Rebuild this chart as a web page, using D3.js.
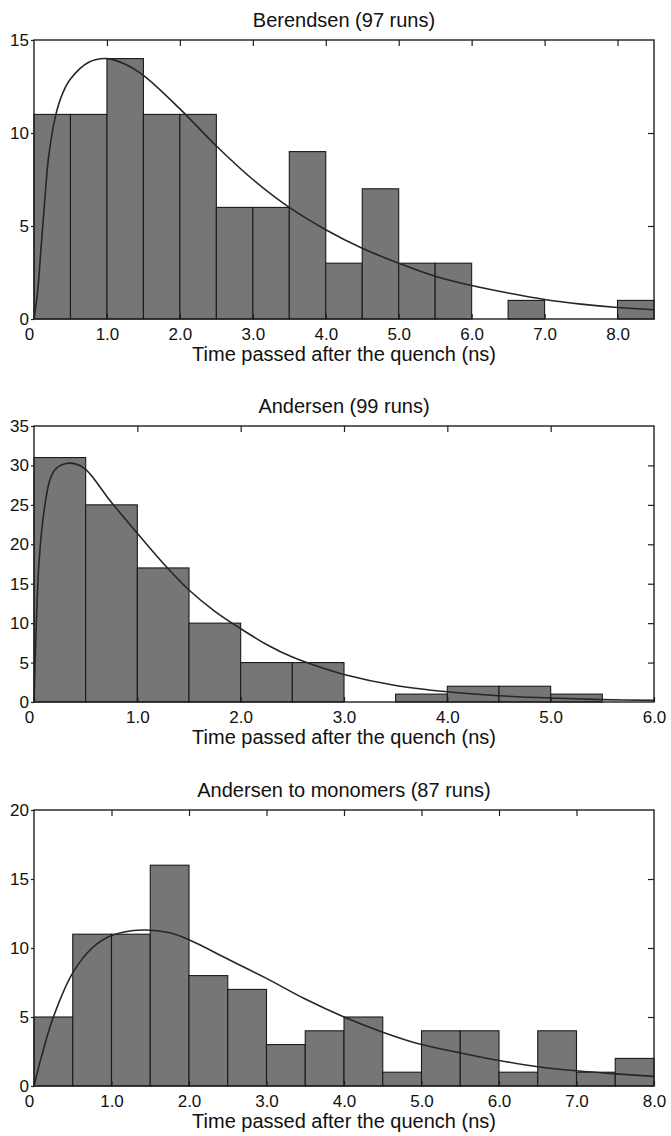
<!DOCTYPE html>
<html>
<head>
<meta charset="utf-8">
<script src="https://cdn.jsdelivr.net/npm/d3@7"></script>
<style>
  html, body { margin: 0; padding: 0; background: #fff; }
  svg { display: block; }
  text { font-family: "Liberation Sans", Arial, Helvetica, sans-serif; fill: #111; }
</style>
</head>
<body>
<svg id="chart" width="671" height="1136"></svg>
<script>
// Histogram of cluster formation times after the quench, three thermostat setups.
const binWidth = 0.5;

const titles = ["Berendsen (97 runs)", "Andersen (99 runs)", "Andersen to monomers (87 runs)"];
const xAxisTitle = "Time passed after the quench (ns)";

// Counts per 0.5 ns bin
const berendsenCounts = [11, 11, 14, 11, 11, 6, 6, 9, 3, 7, 3, 3, 0, 1, 0, 0, 1];
const andersenCounts  = [31, 25, 17, 10, 5, 5, 0, 1, 2, 2, 1, 0];
const monomerCounts   = [5, 11, 11, 16, 8, 7, 3, 4, 5, 1, 4, 4, 1, 4, 1, 2];

// Fitted distribution curves, [time (ns), count]
const berendsenFit = [[0,0],[0.05,1.5],[0.1,4],[0.15,6.5],[0.2,8.7],[0.3,11],[0.4,12.2],[0.5,12.9],
  [0.75,13.8],[1.0,14.0],[1.25,13.7],[1.5,13.1],[2.0,11.3],[2.5,9.3],[3.0,7.5],[3.5,6.0],[4.0,4.8],
  [4.5,3.8],[5.0,3.0],[5.5,2.3],[6.0,1.8],[6.5,1.4],[7.0,1.05],[7.5,0.8],[8.0,0.62],[8.5,0.5]];
const andersenFit = [[0,0],[0.02,9],[0.05,18],[0.1,24.5],[0.15,28],[0.2,29.4],[0.3,30.2],[0.4,30.2],
  [0.5,29.5],[0.75,25.3],[1.0,21.4],[1.25,17.6],[1.5,14.2],[1.75,11.5],[2.0,9.3],[2.25,7.3],[2.5,5.7],
  [2.75,4.5],[3.0,3.5],[3.5,2.1],[4.0,1.3],[4.5,0.8],[5.0,0.5],[5.5,0.3],[6.0,0.2]];
const monomerFit = [[0,0],[0.1,2.2],[0.25,5],[0.5,8.2],[0.75,10],[1.0,10.9],[1.4,11.3],[1.75,11.1],
  [2.0,10.6],[2.5,9.2],[3.0,7.8],[3.5,6.3],[4.0,5.0],[4.5,3.9],[5.0,3.0],[5.5,2.4],[6.0,1.85],
  [6.5,1.4],[7.0,1.1],[7.5,0.88],[8.0,0.7]];

// Axis extents and tick values
const xMaxes = [8.5, 6, 8];
const yMaxes = [15, 35, 20];
const xTicks = [[0,1,2,3,4,5,6,7,8], [0,1,2,3,4,5,6], [0,1,2,3,4,5,6,7,8]];
const yTicks = [[0,5,10,15], [0,5,10,15,20,25,30,35], [0,5,10,15,20]];

const svg = d3.select("#chart");
const left = 34, right = 654;
const frames = [{top: 40, bottom: 319}, {top: 426, bottom: 702}, {top: 810, bottom: 1086}];

const panels = titles.map((t, i) => ({
  title: t,
  counts: [berendsenCounts, andersenCounts, monomerCounts][i],
  fit: [berendsenFit, andersenFit, monomerFit][i],
  xMax: xMaxes[i], yMax: yMaxes[i],
  xTicks: xTicks[i], yTicks: yTicks[i],
  ...frames[i]
}));

const fmtX = d => d === 0 ? "0" : d.toFixed(1);
const ink = "#1e1e1e";
const fontStack = '"Liberation Sans", Arial, Helvetica, sans-serif';

panels.forEach(p => {
  const x = d3.scaleLinear().domain([0, p.xMax]).range([left, right]);
  const y = d3.scaleLinear().domain([0, p.yMax]).range([p.bottom, p.top]);
  const g = svg.append("g");

  // bars
  const bins = p.counts.map((c, i) => ({x0: i * binWidth, x1: (i + 1) * binWidth, c}))
    .filter(b => b.c > 0);
  g.append("g").selectAll("rect").data(bins).join("rect")
    .attr("x", b => x(b.x0))
    .attr("y", b => y(b.c))
    .attr("width", b => x(b.x1) - x(b.x0))
    .attr("height", b => y(0) - y(b.c))
    .attr("fill", "#767676")
    .attr("stroke", "#1a1a1a")
    .attr("stroke-width", 1.1);

  // fitted curve
  const line = d3.line().x(d => x(d[0])).y(d => y(d[1])).curve(d3.curveCatmullRom.alpha(0.5));
  g.append("path").datum(p.fit)
    .attr("d", line)
    .attr("fill", "none")
    .attr("stroke", "#262626")
    .attr("stroke-width", 1.6);

  // axes
  const inner = v => v.filter(d => d > 0 && d < p.xMax);
  const bottomAxis = g.append("g").attr("transform", `translate(0,${p.bottom})`)
    .call(d3.axisBottom(x).tickValues(p.xTicks).tickFormat(fmtX).tickSizeInner(-5).tickSizeOuter(0).tickPadding(9));
  bottomAxis.selectAll("text").filter(d => d === 0).attr("dx", -5);
  const topAxis = g.append("g").attr("transform", `translate(0,${p.top})`)
    .call(d3.axisTop(x).tickValues(inner(p.xTicks)).tickFormat("").tickSizeInner(-6).tickSizeOuter(0));
  const leftAxis = g.append("g").attr("transform", `translate(${left},0)`)
    .call(d3.axisLeft(y).tickValues(p.yTicks).tickSizeInner(3).tickSizeOuter(0).tickPadding(2));
  const rightAxis = g.append("g").attr("transform", `translate(${right},0)`)
    .call(d3.axisRight(y).tickValues(p.yTicks.filter(d => d > 0 && d < p.yMax)).tickFormat("").tickSizeInner(-6).tickSizeOuter(0));

  [bottomAxis, topAxis, leftAxis, rightAxis].forEach(a => {
    a.select(".domain").remove();
    a.selectAll("line").attr("stroke", ink).attr("stroke-width", 1.2);
    a.selectAll("text").attr("font-size", 17).attr("fill", "#111").style("font-family", fontStack);
  });

  // frame
  g.append("rect")
    .attr("x", left).attr("y", p.top)
    .attr("width", right - left).attr("height", p.bottom - p.top)
    .attr("fill", "none").attr("stroke", ink).attr("stroke-width", 1.4);

  // titles
  g.append("text")
    .attr("x", (left + right) / 2).attr("y", p.top - 13)
    .attr("text-anchor", "middle").attr("font-size", 20)
    .text(p.title);
  g.append("text")
    .attr("x", (left + right) / 2).attr("y", p.bottom + 42)
    .attr("text-anchor", "middle").attr("font-size", 20)
    .text(xAxisTitle);
});
</script>
</body>
</html>
